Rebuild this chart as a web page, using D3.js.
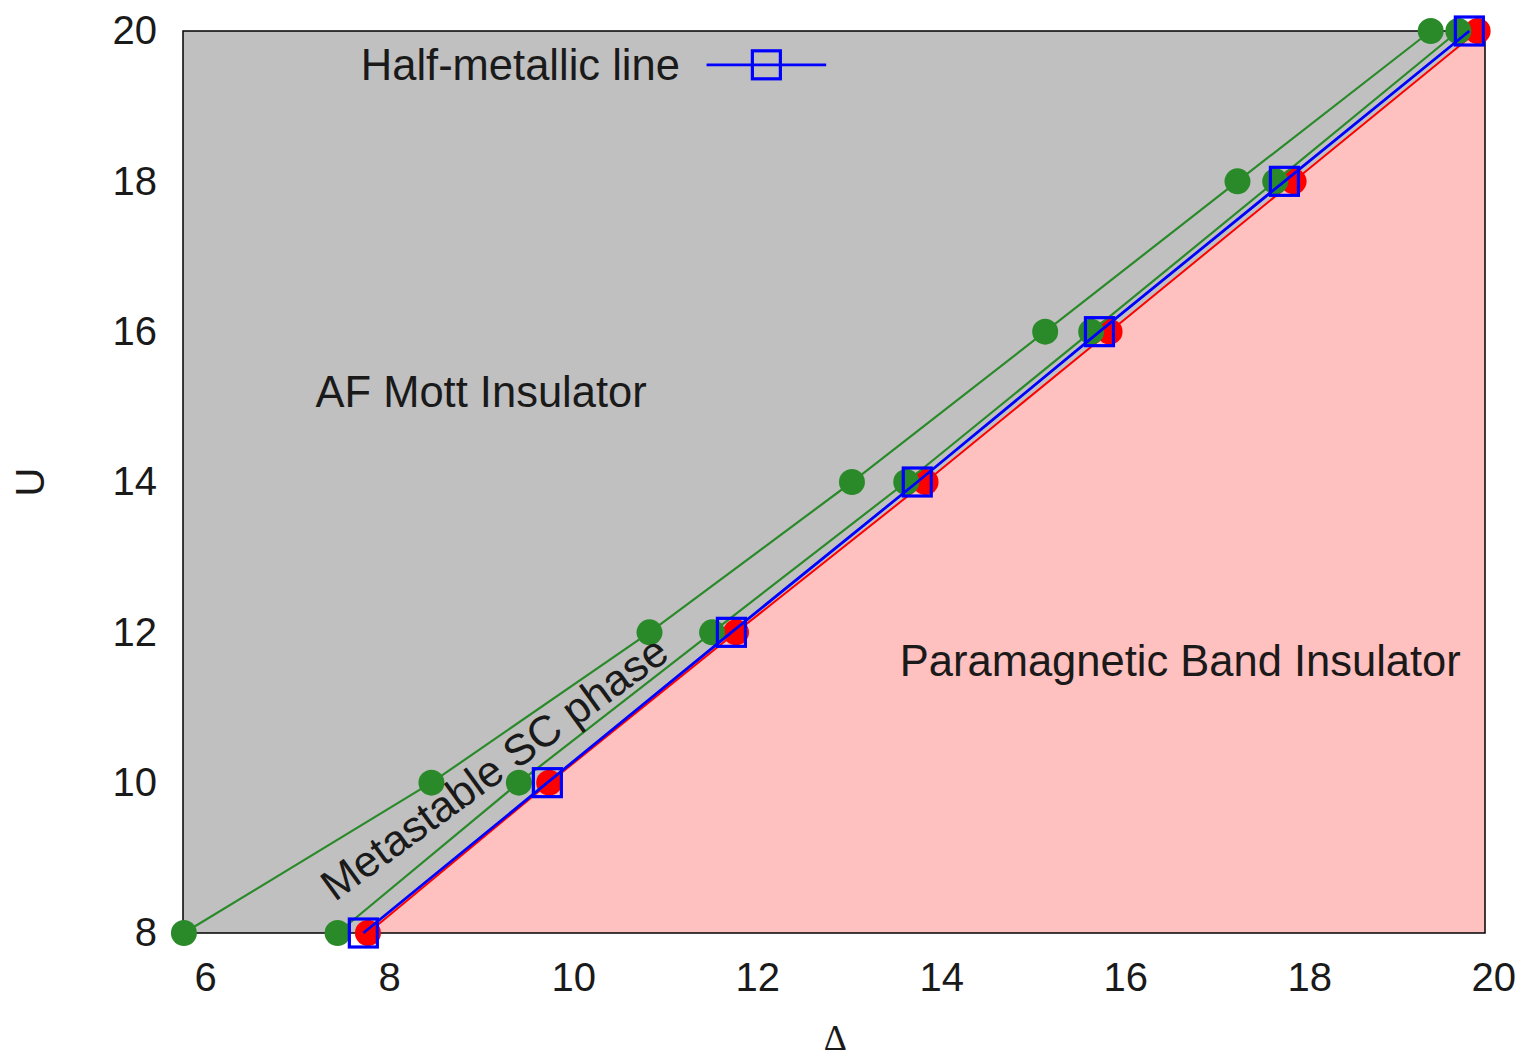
<!DOCTYPE html>
<html>
<head>
<meta charset="utf-8">
<script src="https://cdn.jsdelivr.net/npm/d3@7"></script>
<style>
  body { margin: 0; background: #fff; }
  text { font-family: "Liberation Sans", Arial, sans-serif; fill: #1a1a1a; }
</style>
</head>
<body>
<div id="chart"></div>
<script>
// values
const uValues = [8, 10, 12, 14, 16, 18, 20];
const greenOuter = [5.77, 8.46, 10.83, 13.03, 15.13, 17.22, 19.32];
const greenInner = [7.44, 9.41, 11.51, 13.62, 15.63, 17.63, 19.62];
const halfMetallic = [7.72, 9.72, 11.72, 13.74, 15.72, 17.73, 19.74];
const redBoundary = [7.77, 9.74, 11.77, 13.83, 15.83, 17.83, 19.83];
const xTicks = [6, 8, 10, 12, 14, 16, 18, 20];
const yTicks = [8, 10, 12, 14, 16, 18, 20];

const margin = {top: 31, right: 35, bottom: 127, left: 183},
    width = 1520 - margin.left - margin.right,
    height = 1060 - margin.top - margin.bottom;

const svg = d3.select("#chart")
  .append("svg")
    .attr("width", 1520)
    .attr("height", 1060)
  .append("g")
    .attr("transform", `translate(${margin.left},${margin.top})`);

const x = d3.scaleLinear().domain([5.76, 19.91]).range([0, width]);
const y = d3.scaleLinear().domain([8, 20]).range([height, 0]);

// background (AF Mott region)
svg.append("rect")
  .attr("width", width).attr("height", height)
  .attr("fill", "#c0c0c0");

// pink band-insulator region under the red boundary
const pinkPts = redBoundary.map((d, i) => [d, uValues[i]])
  .concat([[x.domain()[1], 20], [x.domain()[1], 8]]);
svg.append("path")
  .attr("d", d3.line().x(d => x(d[0])).y(d => y(d[1]))(pinkPts) + "Z")
  .attr("fill", "#ffc0c0");

// frame
svg.append("rect")
  .attr("width", width).attr("height", height)
  .attr("fill", "none").attr("stroke", "#000").attr("stroke-width", 1.5);

// axes
const xAxis = svg.append("g")
  .attr("transform", `translate(0,${height})`)
  .call(d3.axisBottom(x).tickValues(xTicks).tickSize(0).tickPadding(30));
const yAxis = svg.append("g")
  .call(d3.axisLeft(y).tickValues(yTicks).tickSize(0).tickPadding(26));
[xAxis, yAxis].forEach(a => {
  a.select(".domain").remove();
  a.selectAll("text").style("font-size", "40px").attr("fill", "#1a1a1a");
});
xAxis.selectAll("text").attr("dy", "0.71em");

const line = d3.line().x(d => x(d[0])).y(d => y(d[1]));
function series(vals, color, lw) {
  const pts = vals.map((d, i) => [d, uValues[i]]);
  svg.append("path")
    .attr("d", line(pts))
    .attr("fill", "none").attr("stroke", color).attr("stroke-width", lw);
  return pts;
}

// red boundary
const redPts = series(redBoundary, "#ff0000", 2);
svg.selectAll(".red").data(redPts).join("circle")
  .attr("cx", d => x(d[0])).attr("cy", d => y(d[1]))
  .attr("r", 13).attr("fill", "#ff0000");

// green lines
[greenOuter, greenInner].forEach(vals => {
  const pts = series(vals, "#2a8a2a", 2.2);
  svg.append("g").selectAll("circle").data(pts).join("circle")
    .attr("cx", d => x(d[0])).attr("cy", d => y(d[1]))
    .attr("r", 13).attr("fill", "#2a8a2a");
});

// half-metallic line
const bluePts = series(halfMetallic, "#0000ff", 2.8);
svg.append("g").selectAll("rect").data(bluePts).join("rect")
  .attr("x", d => x(d[0]) - 14).attr("y", d => y(d[1]) - 14)
  .attr("width", 28).attr("height", 28)
  .attr("fill", "none").attr("stroke", "#0000ff").attr("stroke-width", 3.2);

// legend
const legY = y(19.55);
svg.append("text")
  .attr("x", x(11.16)).attr("y", legY).attr("dy", "0.35em")
  .attr("text-anchor", "end").style("font-size", "43.5px")
  .text("Half-metallic line");
svg.append("line")
  .attr("x1", x(11.45)).attr("x2", x(12.75))
  .attr("y1", legY).attr("y2", legY)
  .attr("stroke", "#0000ff").attr("stroke-width", 2.8);
svg.append("rect")
  .attr("x", x(12.1) - 14).attr("y", legY - 14)
  .attr("width", 28).attr("height", 28)
  .attr("fill", "none").attr("stroke", "#0000ff").attr("stroke-width", 3.2);

// region labels
svg.append("text")
  .attr("x", x(7.2)).attr("y", y(15.0))
  .style("font-size", "43.5px").text("AF Mott Insulator");
svg.append("text")
  .attr("x", x(13.55)).attr("y", y(11.42))
  .style("font-size", "43.5px").text("Paramagnetic Band Insulator");
svg.append("text")
  .attr("transform", `translate(${x(9.14)},${y(10.2)}) rotate(-36)`)
  .attr("text-anchor", "middle").attr("dy", "0.35em")
  .style("font-size", "43.5px").text("Metastable SC phase");

// axis titles
svg.append("text")
  .attr("x", x(12.85)).attr("y", height + 117)
  .attr("text-anchor", "middle")
  .style("font-family", "'Liberation Serif', 'DejaVu Serif', serif")
  .style("font-size", "36px").text("Δ");
svg.append("text")
  .attr("transform", `translate(${-margin.left + 44},${y(14)}) rotate(-90)`)
  .attr("text-anchor", "middle")
  .style("font-size", "40px").text("U");
</script>
</body>
</html>
